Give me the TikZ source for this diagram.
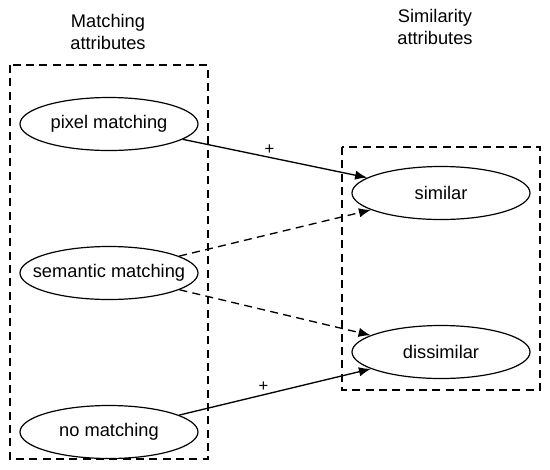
\documentclass[tikz,border=0pt]{standalone}
\usepackage{fontspec}
\setmainfont{Liberation Sans}
\usetikzlibrary{arrows.meta,shapes.geometric}
\tikzset{
attr/.style={draw,ellipse,line width=0.9pt,minimum width=133.5pt,minimum height=39.75pt,inner ysep=0pt,inner xsep=-14pt,font=\fontsize{13.7}{16}\selectfont},
grp/.style={line width=1pt,dash pattern=on 6pt off 4pt},
rel/.style={-{Latex[length=9pt,width=7pt]},line width=1pt},
sgn/.style={font=\fontsize{12.5}{13}\selectfont,inner sep=1pt}
}

\begin{document}
\begin{tikzpicture}[x=0.75pt,y=0.75pt,yscale=-1,xscale=1]
\useasboundingbox (0,0) rectangle (550,469);

%Titles
\node (mtitle) [align=center,font=\fontsize{13.7}{16.5}\selectfont] at (108,32) {Matching\\attributes};
\node (stitle) [align=center,font=\fontsize{13.7}{16.5}\selectfont] at (435,26.5) {Similarity\\attributes};

%Groups
\draw [grp] (10,65) rectangle (208,459);
\draw [grp] (342,147) rectangle (540,390);

%Matching attributes
\node (pix) [attr] at (109,124) {pixel matching};
\node (sem) [attr] at (109,273) {semantic matching};
\node (none) [attr] at (109,432) {no matching};

%Similarity attributes
\node (sim) [attr] at (441,193) {similar};
\node (dis) [attr] at (441,352) {dissimilar};

%Relations
\draw [rel] (pix) -- node[sgn,pos=0.47,above=1pt] {+} (sim);
\draw [rel,dash pattern=on 6pt off 4pt] (sem) -- (sim);
\draw [rel,dash pattern=on 6pt off 4pt] (sem) -- (dis);
\draw [rel] (none) -- node[sgn,pos=0.44,above=1pt] {+} (dis);

\end{tikzpicture}
\end{document}
